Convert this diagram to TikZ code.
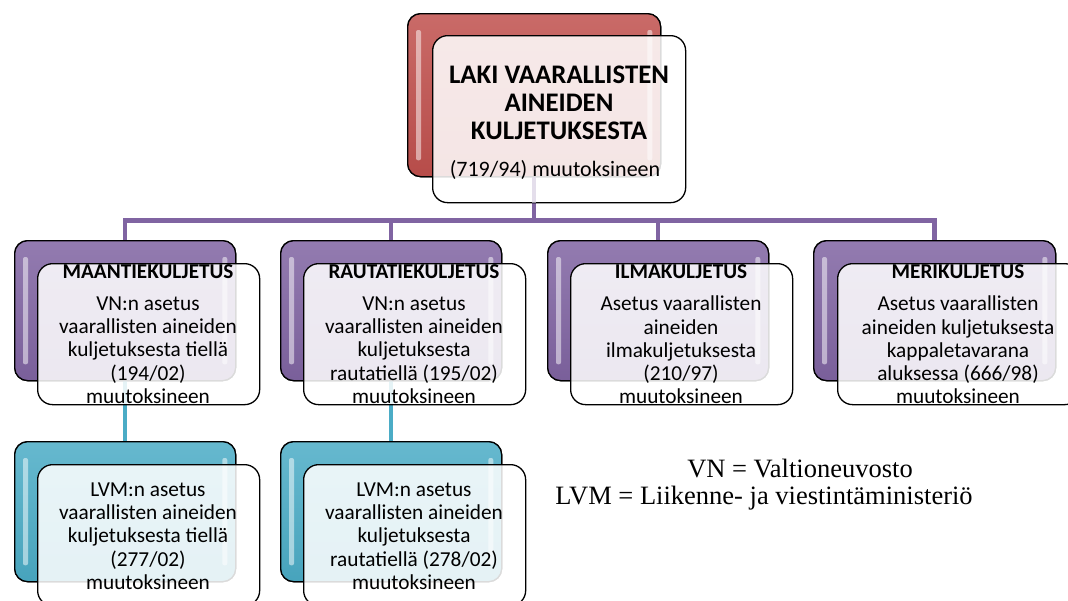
\documentclass[tikz,border=0pt]{standalone}
\usepackage{fontspec}
\setmainfont{Carlito}
\newfontfamily\tnr{Liberation Serif}
\usetikzlibrary{calc}
\definecolor{cred}{HTML}{C0504D}
\definecolor{cpurple}{HTML}{8064A2}
\definecolor{ccyan}{HTML}{4BACC6}
\begin{document}
\begin{tikzpicture}[x=1pt,y=-1pt,
  backbox/.style={draw=black, line width=1.3pt, rounded corners=13pt, inner sep=0pt, anchor=north west,
    minimum width=221pt, minimum height=140pt},
  redback/.style={backbox, top color=cred!85!white, bottom color=cred!95!black, minimum width=253pt, minimum height=163pt},
  purback/.style={backbox, top color=cpurple!85!white, bottom color=cpurple!95!black},
  cyanback/.style={backbox, top color=ccyan!85!white, bottom color=ccyan!95!black},
  frontbox/.style={draw=black, line width=1.3pt, rounded corners=15pt, fill=white, fill opacity=0.86,
    inner sep=0pt, anchor=north west, minimum width=222pt, minimum height=141pt},
  topfront/.style={frontbox, minimum width=253pt, minimum height=167pt},
  hl/.style={fill=white, opacity=0.5, rounded corners=2pt},
  purconn/.style={draw=cpurple, line width=4.5pt},
  cyanconn/.style={draw=ccyan, line width=4.5pt},
  titletxt/.style={font=\bfseries\fontsize{26.8}{28}\selectfont, align=center},
  subtxt/.style={font=\fontsize{22}{26}\selectfont, align=center},
  headtxt/.style={font=\bfseries\fontsize{21.2}{24}\selectfont, align=center},
  bodytxt/.style={font=\fontsize{21.3}{23.3}\selectfont, align=center},
  legtxt/.style={font=\tnr\fontsize{26.5}{30}\selectfont, align=center}
]
\useasboundingbox (0,0) rectangle (1068,600);
\clip (0,0) rectangle (1068,600);

% back boxes (positions)
\path (407,13) node[redback] (top) {};
\path (14,240) node[purback] (m1) {};
\path (280,240) node[purback] (m2) {};
\path (547,240) node[purback] (m3) {};
\path (813,240) node[purback, minimum width=242pt] (m4) {};
\path (14,441) node[cyanback] (l1) {};
\path (280,441) node[cyanback] (l2) {};

% connectors
\coordinate (bus) at ($(top.south)+(0,43)$);
\path[purconn] (top.south) -- (bus) -| (m1.north);
\path[purconn] (bus) -| (m2.north);
\path[purconn] (bus) -| (m3.north);
\path[purconn] (bus) -| (m4.north);
\path[cyanconn] (m1.south) -- (l1.north);
\path[cyanconn] (m2.south) -- (l2.north);

% redraw back boxes over connectors
\path (407,13) node[redback] {};
\path (14,240) node[purback] {};
\path (280,240) node[purback] {};
\path (547,240) node[purback] {};
\path (813,240) node[purback, minimum width=242pt] {};
\path (14,441) node[cyanback] {};
\path (280,441) node[cyanback] {};

% highlights
\foreach \b in {top,m1,m2,m3,m4,l1,l2}{
  \fill[hl] ($(\b.north west)+(9,17)$) rectangle ($(\b.south west)+(14,-17)$);
  \fill[hl] ($(\b.north east)+(-14,17)$) rectangle ($(\b.south east)+(-9,-17)$);
}

% front boxes
\path (432,35) node[topfront] (topf) {};
\path (37,263) node[frontbox] (m1f) {};
\path (303,263) node[frontbox] (m2f) {};
\path (570,263) node[frontbox] (m3f) {};
\path (837,263) node[frontbox, minimum width=242pt] (m4f) {};
\path (37,464) node[frontbox] (l1f) {};
\path (303,464) node[frontbox] (l2f) {};

% faint connector line seen through top front box
\path[draw=cpurple!25!white, line width=4pt, opacity=0.6] (top.south) -- (topf.south -| top.south);

% texts
\node[titletxt] (ttl) at (559,103) {LAKI VAARALLISTEN\\AINEIDEN\\KULJETUKSESTA};
\node[subtxt] (tsub) at (555,170) {(719/94) muutoksineen};

\node[headtxt] (h1) at (148,272) {MAANTIEKULJETUS};
\node[headtxt] (h2) at (414,272) {RAUTATIEKULJETUS};
\node[headtxt] (h3) at (681,272) {ILMAKULJETUS};
\node[headtxt] (h4) at (958,272) {MERIKULJETUS};

\node[bodytxt] (b1) at (148,350) {VN:n asetus\\vaarallisten aineiden\\kuljetuksesta tiellä\\(194/02)\\muutoksineen};
\node[bodytxt] (b2) at (414,350) {VN:n asetus\\vaarallisten aineiden\\kuljetuksesta\\rautatiellä (195/02)\\muutoksineen};
\node[bodytxt] (b3) at (681,350) {Asetus vaarallisten\\aineiden\\ilmakuljetuksesta\\(210/97)\\muutoksineen};
\node[bodytxt] (b4) at (958,350) {Asetus vaarallisten\\aineiden kuljetuksesta\\kappaletavarana\\aluksessa (666/98)\\muutoksineen};

\node[bodytxt] (c1) at (148,536) {LVM:n asetus\\vaarallisten aineiden\\kuljetuksesta tiellä\\(277/02)\\muutoksineen};
\node[bodytxt] (c2) at (414,536) {LVM:n asetus\\vaarallisten aineiden\\kuljetuksesta\\rautatiellä (278/02)\\muutoksineen};

\node[legtxt] (lg1) at (800,468) {VN = Valtioneuvosto};
\node[legtxt] (lg2) at (764,498) {LVM = Liikenne- ja viestintäministeriö};
\end{tikzpicture}
\end{document}
